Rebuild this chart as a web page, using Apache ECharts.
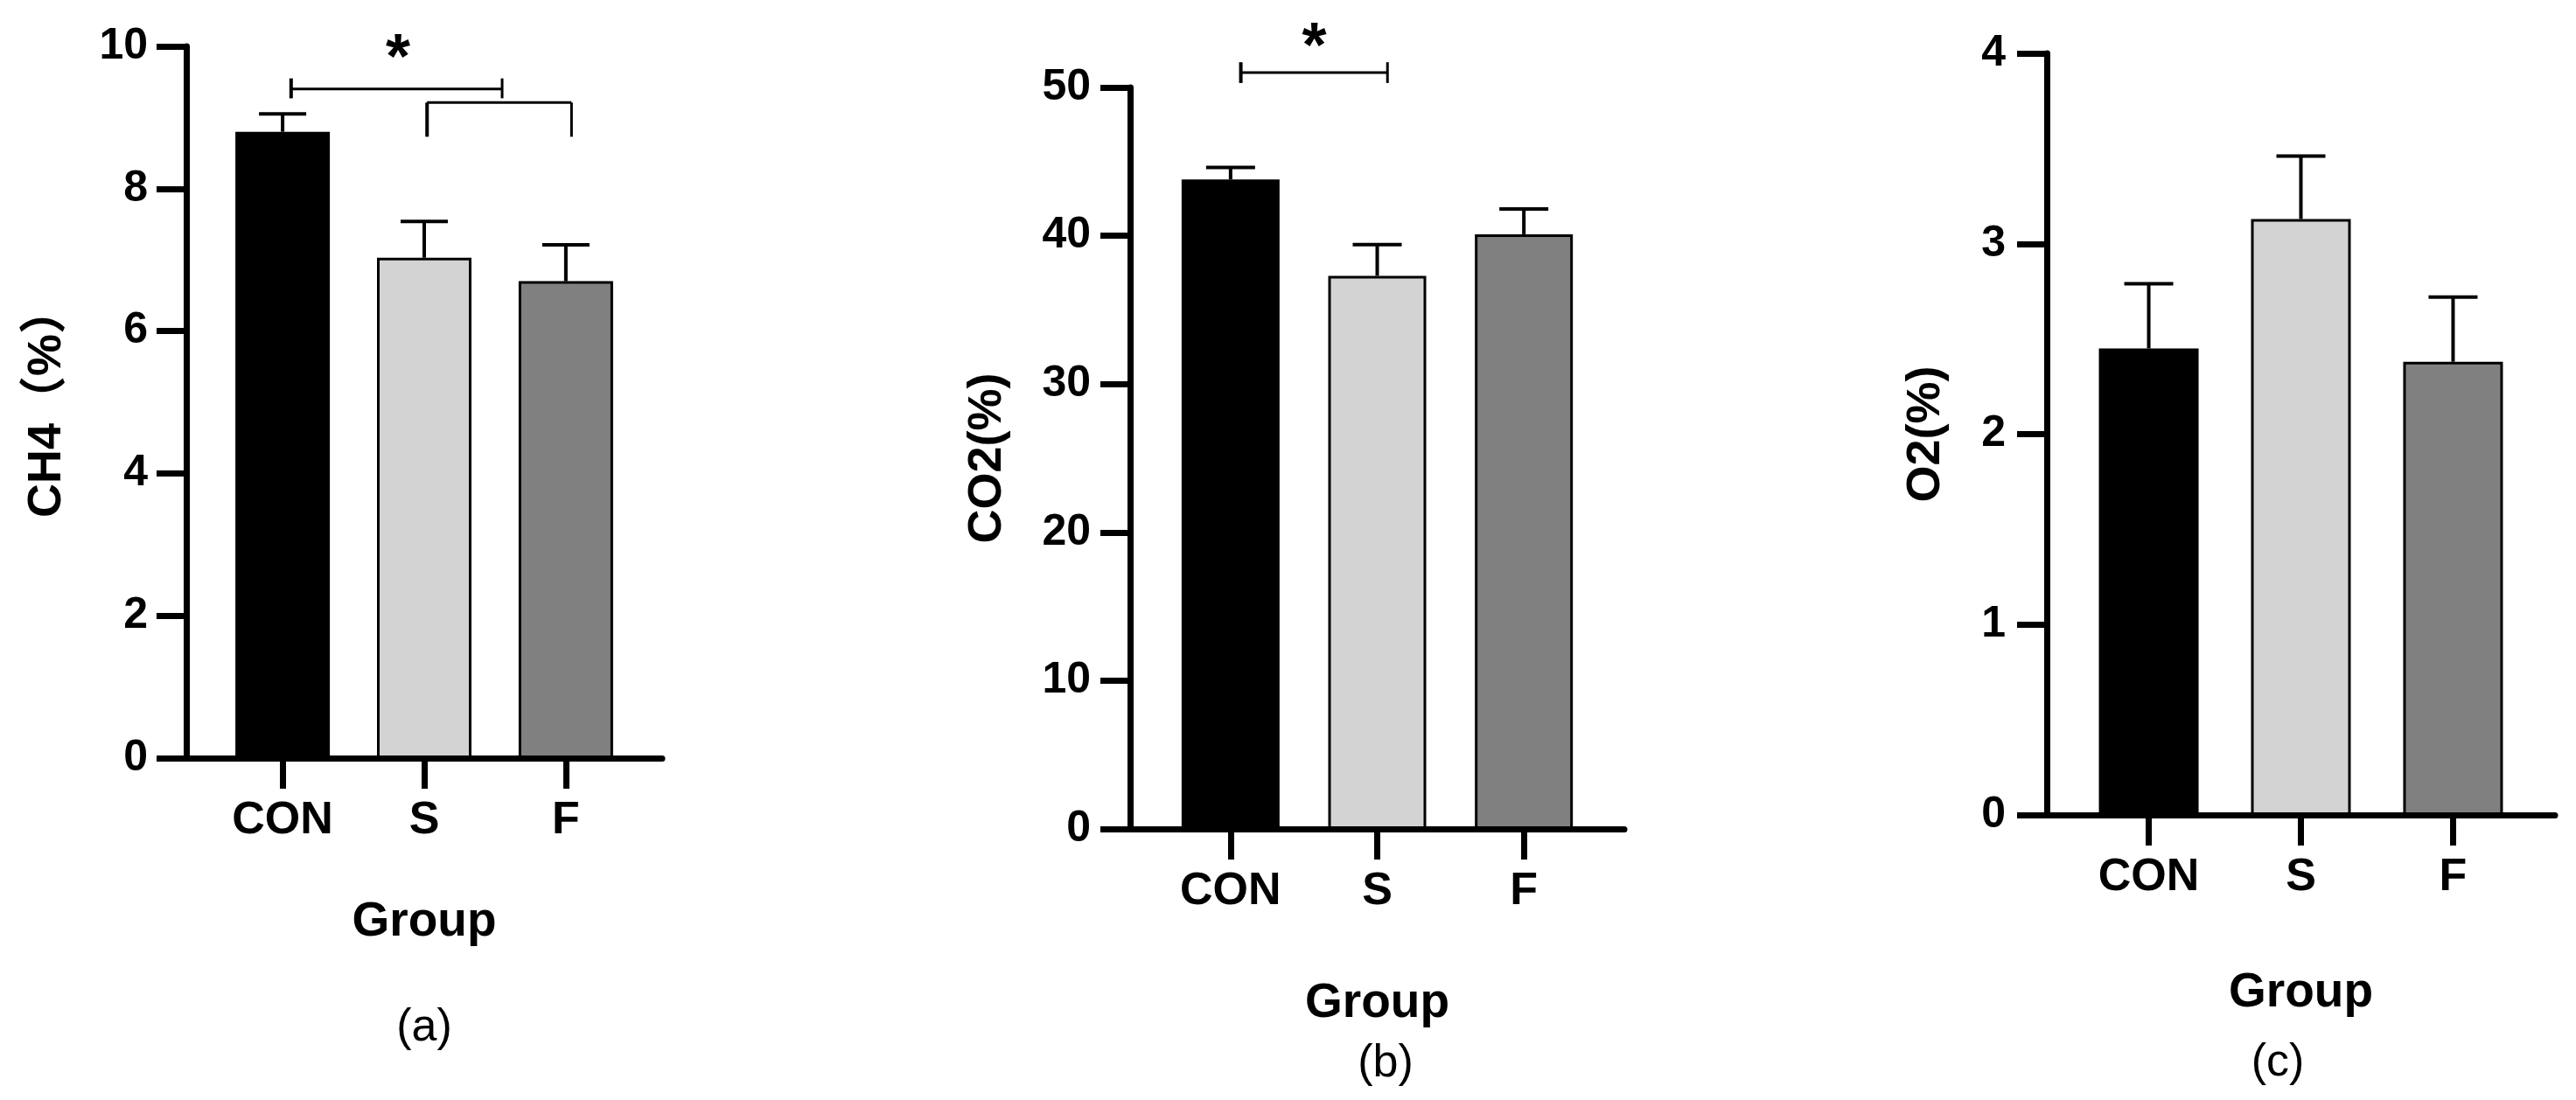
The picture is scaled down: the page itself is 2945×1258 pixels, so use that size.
<!DOCTYPE html>
<html>
<head>
<meta charset="utf-8">
<script src="https://cdn.jsdelivr.net/npm/echarts@6/dist/echarts.min.js"></script>
<style>
  html, body { margin: 0; padding: 0; background: #fff; }
  #chart { width: 2945px; height: 1258px; }
</style>
</head>
<body>
<div id="chart"></div>
<script>
// groups and colours
var groups = ['CON', 'S', 'F']
var barColors = ['#000000', '#d3d3d3', '#808080']

// (a) CH4
var ch4Mean = [8.80, 7.03, 6.70]
var ch4Err = [0.25, 0.51, 0.51]
// (b) CO2
var co2Mean = [43.8, 37.3, 40.1]
var co2Err = [0.8, 2.1, 1.7]
// (c) O2
var o2Mean = [2.45, 3.13, 2.38]
var o2Err = [0.34, 0.33, 0.34]

// significance brackets: [x1, x2, y, endBottom, endTop]
var ch4Brackets = [[0.06, 1.55, 9.40, 9.27, 9.55], [1.02, 2.04, 9.21, 8.73, 9.21]]
var co2Brackets = [[0.07, 1.07, 51.0, 50.3, 51.7]]
// stars: [x, y]
var ch4Stars = [[0.815, 10.0]]
var co2Stars = [[0.57, 53.5]]

var FONT = '"Liberation Sans", Arial, "Noto Sans CJK SC", sans-serif'

var mychart = echarts.init(document.getElementById('chart'))

function barData(means) {
  return means.map(function (v, i) {
    return {
      value: [i, v],
      itemStyle: {
        color: barColors[i],
        borderColor: '#000',
        borderWidth: i === 0 ? 0 : 3
      }
    }
  })
}

function errData(means, errs) {
  return means.map(function (v, i) { return [i, v, errs[i]] })
}

function errRender(capW) {
  return function (params, api) {
    var x = api.value(0), m = api.value(1), e = api.value(2)
    var p0 = api.coord([x, m])
    var p1 = api.coord([x, m + e])
    return {
      type: 'group',
      children: [
        { type: 'line', shape: { x1: p0[0], y1: p0[1], x2: p1[0], y2: p1[1] }, style: { stroke: '#000', lineWidth: 4 } },
        { type: 'line', shape: { x1: p1[0] - capW / 2, y1: p1[1], x2: p1[0] + capW / 2, y2: p1[1] }, style: { stroke: '#000', lineWidth: 4 } }
      ]
    }
  }
}

function bracketRender(params, api) {
  var x1 = api.value(0), x2 = api.value(1), y = api.value(2), yb = api.value(3), yt = api.value(4)
  var a = api.coord([x1, y]), b = api.coord([x2, y])
  var a0 = api.coord([x1, yb]), a1 = api.coord([x1, yt])
  var b0 = api.coord([x2, yb]), b1 = api.coord([x2, yt])
  return {
    type: 'group',
    children: [
      { type: 'line', shape: { x1: a[0], y1: a[1], x2: b[0], y2: b[1] }, style: { stroke: '#000', lineWidth: 3 } },
      { type: 'line', shape: { x1: a0[0], y1: a0[1], x2: a1[0], y2: a1[1] }, style: { stroke: '#000', lineWidth: 4 } },
      { type: 'line', shape: { x1: b0[0], y1: b0[1], x2: b1[0], y2: b1[1] }, style: { stroke: '#000', lineWidth: 3 } }
    ]
  }
}

function starRender(params, api) {
  var p = api.coord([api.value(0), api.value(1)])
  return {
    type: 'text',
    x: p[0],
    y: p[1] + 16,
    style: { text: '*', fontSize: 72, fontWeight: 'bold', fontFamily: FONT, fill: '#000', align: 'center', verticalAlign: 'middle' }
  }
}

function xAxisCfg(idx, min, max, nameGap) {
  return {
    gridIndex: idx,
    type: 'value',
    min: min,
    max: max,
    splitLine: { show: false },
    axisLine: { show: true, onZero: false, lineStyle: { color: '#000', width: 7 } },
    axisTick: { show: true, customValues: [0, 1, 2], length: 35, lineStyle: { color: '#000', width: 7 } },
    axisLabel: {
      customValues: [0, 1, 2],
      formatter: function (v) { return groups[Math.round(v)] },
      color: '#000', fontSize: 52, fontWeight: 'bold', fontFamily: FONT, margin: 46
    },
    name: 'Group',
    nameLocation: 'middle',
    nameGap: nameGap,
    nameTextStyle: { color: '#000', fontSize: 55, fontWeight: 'bold', fontFamily: FONT }
  }
}

function yAxisCfg(idx, max, interval, name, nameGap, margin) {
  return {
    gridIndex: idx,
    type: 'value',
    min: 0,
    max: max,
    interval: interval,
    splitLine: { show: false },
    axisLine: { show: true, onZero: false, lineStyle: { color: '#000', width: 7 } },
    axisTick: { show: true, length: 34, lineStyle: { color: '#000', width: 7 } },
    axisLabel: { color: '#000', fontSize: 50, fontWeight: 'bold', fontFamily: FONT, margin: margin },
    name: name,
    nameLocation: 'middle',
    nameRotate: 90,
    nameGap: nameGap,
    nameTextStyle: { color: '#000', fontSize: 54, fontWeight: 'bold', fontFamily: FONT }
  }
}

var option = {
  animation: false,
  backgroundColor: '#fff',
  grid: [
    { left: 213, top: 53, width: 544, height: 814 },
    { left: 1292, top: 100, width: 565, height: 848 },
    { left: 2340, top: 61, width: 581, height: 871 }
  ],
  xAxis: [
    xAxisCfg(0, -0.68, 2.68, 160),
    xAxisCfg(1, -0.685, 2.685, 172),
    xAxisCfg(2, -0.67, 2.67, 176)
  ],
  yAxis: [
    yAxisCfg(0, 10, 2, 'CH4（%）', 132, 44),
    yAxisCfg(1, 50, 10, 'CO2(%)', 136, 45),
    yAxisCfg(2, 4, 1, 'O2(%)', 111, 47)
  ],
  graphic: [
    { type: 'text', x: 485, y: 1176, style: { text: '(a)', fontSize: 52, fontFamily: FONT, fill: '#000', align: 'center', verticalAlign: 'middle' } },
    { type: 'text', x: 1584, y: 1217, style: { text: '(b)', fontSize: 52, fontFamily: FONT, fill: '#000', align: 'center', verticalAlign: 'middle' } },
    { type: 'text', x: 2604, y: 1216, style: { text: '(c)', fontSize: 52, fontFamily: FONT, fill: '#000', align: 'center', verticalAlign: 'middle' } }
  ],
  series: [
    { type: 'bar', xAxisIndex: 0, yAxisIndex: 0, barWidth: 108, data: barData(ch4Mean) },
    { type: 'custom', xAxisIndex: 0, yAxisIndex: 0, renderItem: errRender(54), data: errData(ch4Mean, ch4Err), z: 3 },
    { type: 'custom', xAxisIndex: 0, yAxisIndex: 0, renderItem: bracketRender, data: ch4Brackets, z: 3 },
    { type: 'custom', xAxisIndex: 0, yAxisIndex: 0, renderItem: starRender, data: ch4Stars, z: 3 },

    { type: 'bar', xAxisIndex: 1, yAxisIndex: 1, barWidth: 112, data: barData(co2Mean) },
    { type: 'custom', xAxisIndex: 1, yAxisIndex: 1, renderItem: errRender(56), data: errData(co2Mean, co2Err), z: 3 },
    { type: 'custom', xAxisIndex: 1, yAxisIndex: 1, renderItem: bracketRender, data: co2Brackets, z: 3 },
    { type: 'custom', xAxisIndex: 1, yAxisIndex: 1, renderItem: starRender, data: co2Stars, z: 3 },

    { type: 'bar', xAxisIndex: 2, yAxisIndex: 2, barWidth: 114, data: barData(o2Mean) },
    { type: 'custom', xAxisIndex: 2, yAxisIndex: 2, renderItem: errRender(56), data: errData(o2Mean, o2Err), z: 3 }
  ]
}

mychart.setOption(option)
</script>
</body>
</html>
